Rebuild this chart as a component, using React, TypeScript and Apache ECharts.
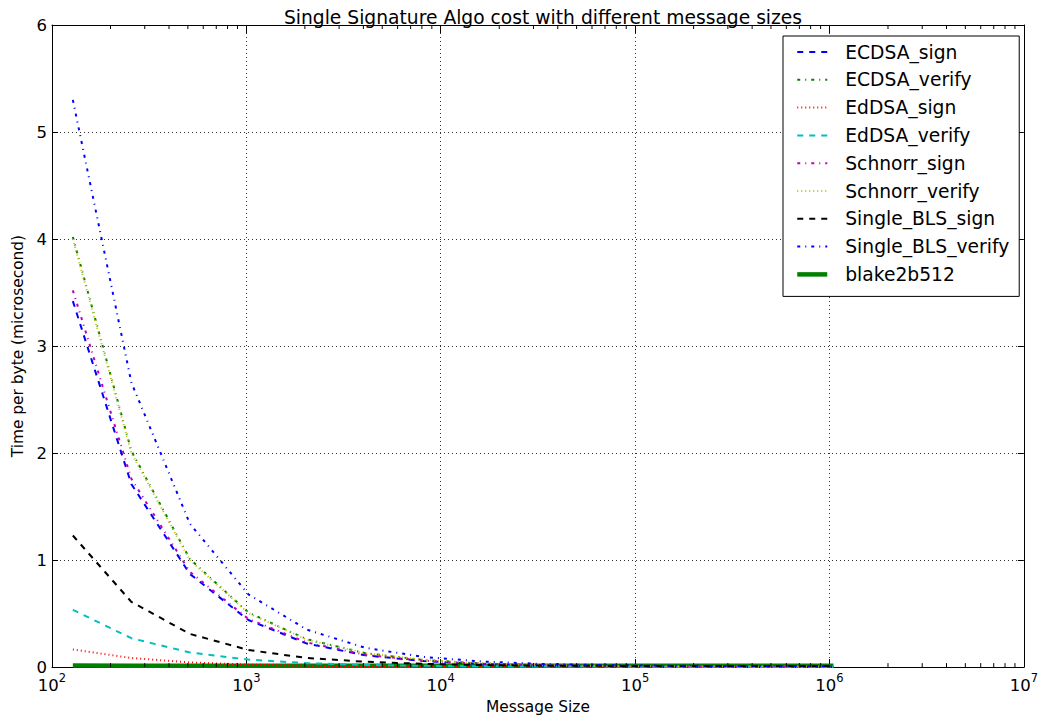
import React, { useEffect, useRef } from "react";
import * as echarts from "echarts";

const sizes = [128, 256, 512, 1024, 2048, 4096, 8192, 16384, 32768, 65536, 131072, 262144, 524288, 1048576];

const ecdsaSign = [3.42, 1.71, 0.87, 0.44, 0.22, 0.11, 0.056, 0.029, 0.015, 0.008, 0.0045, 0.0025, 0.0015, 0.001];
const ecdsaVerify = [4.02, 2.02, 1.01, 0.51, 0.26, 0.13, 0.066, 0.034, 0.018, 0.0095, 0.0055, 0.0033, 0.0022, 0.0017];
const eddsaSign = [0.165, 0.085, 0.044, 0.023, 0.013, 0.0075, 0.0048, 0.0034, 0.0027, 0.0024, 0.0022, 0.0021, 0.0021, 0.002];
const eddsaVerify = [0.535, 0.27, 0.137, 0.07, 0.037, 0.02, 0.012, 0.0075, 0.0055, 0.0045, 0.004, 0.0037, 0.0036, 0.0035];
const schnorrSign = [3.52, 1.76, 0.89, 0.45, 0.23, 0.115, 0.059, 0.031, 0.017, 0.0095, 0.006, 0.0042, 0.0033, 0.0028];
const schnorrVerify = [4.0, 2.0, 1.0, 0.505, 0.255, 0.13, 0.067, 0.035, 0.019, 0.011, 0.0068, 0.0047, 0.0036, 0.0031];
const blsSign = [1.23, 0.61, 0.31, 0.16, 0.085, 0.05, 0.03, 0.019, 0.014, 0.0115, 0.0103, 0.0097, 0.0094, 0.0092];
const blsVerify = [5.3, 2.66, 1.34, 0.68, 0.35, 0.18, 0.095, 0.052, 0.03, 0.019, 0.0135, 0.0108, 0.0095, 0.0088];
const blake = [0.014, 0.013, 0.012, 0.012, 0.012, 0.012, 0.012, 0.012, 0.012, 0.012, 0.012, 0.012, 0.012, 0.012];

const seriesNames = [
  "ECDSA_sign",
  "ECDSA_verify",
  "EdDSA_sign",
  "EdDSA_verify",
  "Schnorr_sign",
  "Schnorr_verify",
  "Single_BLS_sign",
  "Single_BLS_verify",
  "blake2b512",
];
const seriesValues = [ecdsaSign, ecdsaVerify, eddsaSign, eddsaVerify, schnorrSign, schnorrVerify, blsSign, blsVerify, blake];
const seriesColors = ["#0000ff", "#008000", "#ff0000", "#00bfbf", "#bf00bf", "#bfbf00", "#000000", "#0000ff", "#008000"];

const yTicks = [0, 1, 2, 3, 4, 5, 6];
const minorTickValues: number[] = [];
for (let d = 100; d < 1e7; d *= 10) {
  for (let m = 2; m <= 9; m++) minorTickValues.push(d * m);
}

const DASHED = [6, 6];
const DASHDOT = [3, 5, 1, 5];
const DOTTED = [1, 3];
const styles: any[] = [DASHED, DASHDOT, DOTTED, DASHED, DASHDOT, DOTTED, DASHED, DASHDOT, "solid"];
const widths = [2, 2, 2, 2, 2, 2, 2, 2, 4.5];

const FONT = "DejaVu Sans";

export default function App() {
  const ref = useRef<HTMLDivElement>(null);
  useEffect(() => {
    if (!ref.current) return;
    const chart = echarts.init(ref.current, null, { renderer: "svg" });

    const lineSeries = seriesNames.map((name, i) => ({
      name,
      type: "line",
      xAxisIndex: 0,
      yAxisIndex: 0,
      data: sizes.map((s, j) => [s, seriesValues[i][j]]),
      symbol: "none",
      showSymbol: false,
      color: seriesColors[i],
      lineStyle: {
        color: seriesColors[i],
        width: widths[i],
        type: styles[i],
        cap: "butt",
      },
      z: i === 8 ? 1 : 2,
      clip: true,
    }));

    const minorSeries = {
      type: "custom",
      xAxisIndex: 0,
      yAxisIndex: 0,
      data: minorTickValues.map((v) => [v, 0]),
      silent: true,
      z: 5,
      renderItem: (params: any, api: any) => {
        const v = api.value(0);
        const bottom = api.coord([v, 0]);
        const top = api.coord([v, 6]);
        return {
          type: "group",
          children: [
            { type: "line", shape: { x1: bottom[0], y1: bottom[1], x2: bottom[0], y2: bottom[1] - 4 }, style: { stroke: "#000", lineWidth: 1 } },
            { type: "line", shape: { x1: top[0], y1: top[1], x2: top[0], y2: top[1] + 4 }, style: { stroke: "#000", lineWidth: 1 } },
          ],
        };
      },
    };

    const xLabelFormatter = (v: number) => {
      const e = Math.round(Math.log10(v));
      return "{b|10}{e|" + e + "}";
    };

    chart.setOption({
      animation: false,
      backgroundColor: "#fff",
      textStyle: { fontFamily: FONT },
      title: {
        text: "Single Signature Algo cost with different message sizes",
        left: 538,
        textAlign: "center",
        top: 3,
        textStyle: { fontFamily: FONT, fontSize: 18.7, fontWeight: "normal", color: "#000" },
      },
      grid: { left: 52, right: 14, top: 25, bottom: 49, containLabel: false },
      legend: {
        data: seriesNames.map((name, i) => ({
          name,
          lineStyle: { width: widths[i], type: styles[i], color: seriesColors[i], cap: "butt" },
        })),
        orient: "vertical",
        left: 783,
        top: 36,
        itemWidth: 30,
        itemHeight: 14,
        itemGap: 7.8,
        padding: [6, 10, 12, 12],
        borderColor: "#000",
        borderWidth: 1,
        borderRadius: 0,
        backgroundColor: "#fff",
        itemStyle: { opacity: 0 },
        textStyle: { fontFamily: FONT, fontSize: 18.7, lineHeight: 20, color: "#000", padding: [0, 0, 0, 13] },
      },
      xAxis: [
        {
          type: "log",
          logBase: 10,
          min: 100,
          max: 1e7,
          position: "bottom",
          name: "Message Size",
          nameLocation: "middle",
          nameGap: 31,
          nameTextStyle: { fontFamily: FONT, fontSize: 15.4, color: "#000" },
          axisLine: { show: true, onZero: false, lineStyle: { color: "#000", width: 1 } },
          axisTick: { show: true, inside: true, length: 8, lineStyle: { color: "#000" } },
          axisLabel: {
            formatter: xLabelFormatter,
            margin: 5,
            color: "#000",
            rich: {
              b: { fontFamily: FONT, fontSize: 16.5, color: "#000", lineHeight: 22, verticalAlign: "bottom" },
              e: { fontFamily: FONT, fontSize: 11.5, color: "#000", lineHeight: 12, verticalAlign: "top" },
            },
          },
          splitLine: { show: true, lineStyle: { color: "#000", width: 1, type: [1, 3], opacity: 0.8 } },
        },
        {
          type: "log",
          logBase: 10,
          min: 100,
          max: 1e7,
          position: "top",
          axisLine: { show: true, onZero: false, lineStyle: { color: "#000", width: 1 } },
          axisTick: { show: true, inside: true, length: 8, lineStyle: { color: "#000" } },
          axisLabel: { show: false },
          splitLine: { show: false },
        },
      ],
      yAxis: [
        {
          type: "value",
          min: 0,
          max: 6,
          interval: 1,
          position: "left",
          name: "Time per byte (microsecond)",
          nameLocation: "middle",
          nameGap: 25,
          nameTextStyle: { fontFamily: FONT, fontSize: 15.4, color: "#000" },
          axisLine: { show: true, onZero: false, lineStyle: { color: "#000", width: 1 } },
          axisTick: { show: true, inside: true, length: 6, lineStyle: { color: "#000" } },
          axisLabel: {
            fontFamily: FONT,
            fontSize: 16.5,
            color: "#000",
            margin: 5,
            formatter: (v: number) => (yTicks.indexOf(v) >= 0 ? String(v) : ""),
          },
          splitLine: { show: true, lineStyle: { color: "#000", width: 1, type: [1, 3], opacity: 0.8 } },
        },
        {
          type: "value",
          min: 0,
          max: 6,
          interval: 1,
          position: "right",
          axisLine: { show: true, onZero: false, lineStyle: { color: "#000", width: 1 } },
          axisTick: { show: true, inside: true, length: 6, lineStyle: { color: "#000" } },
          axisLabel: { show: false },
          splitLine: { show: false },
        },
      ],
      series: [...lineSeries, minorSeries],
    });

    return () => chart.dispose();
  }, []);

  return <div ref={ref} style={{ width: 1041, height: 719, position: "absolute", left: 0, top: 0 }} />;
}
